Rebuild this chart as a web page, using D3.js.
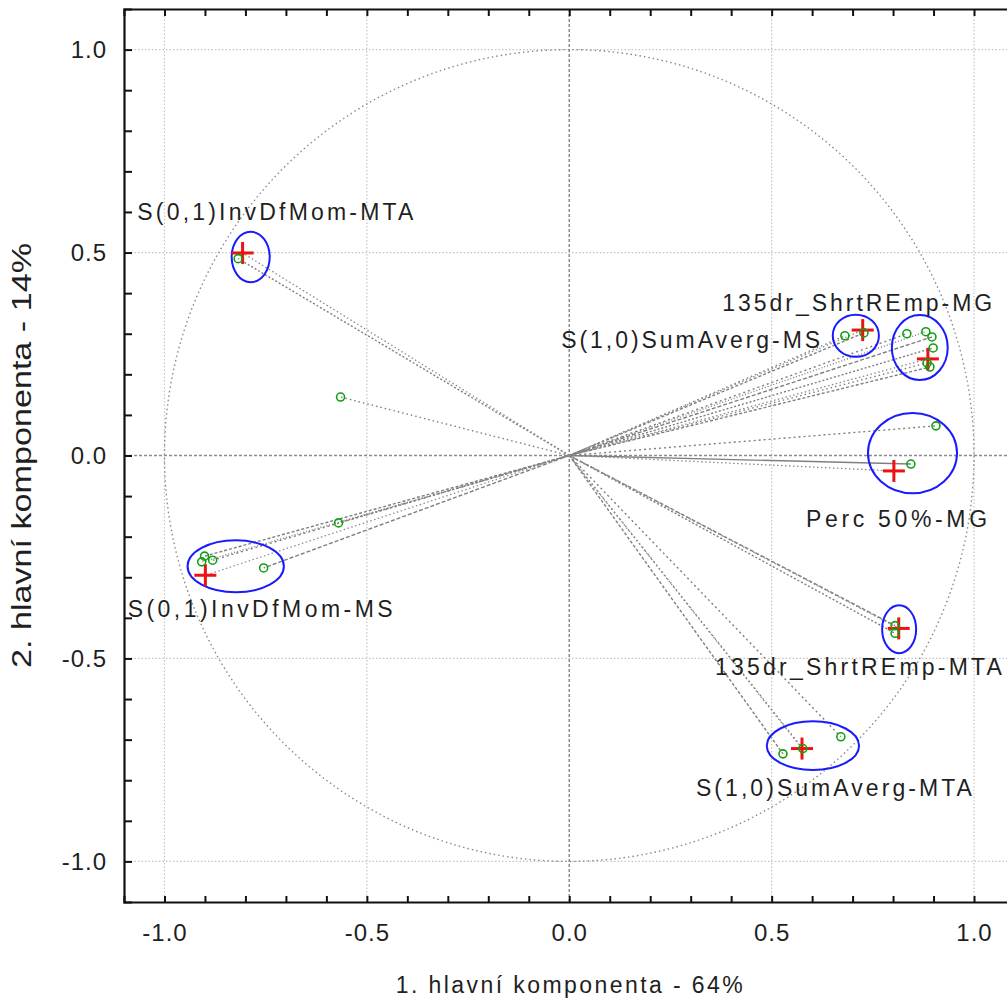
<!DOCTYPE html>
<html><head><meta charset="utf-8">
<script src="https://cdn.jsdelivr.net/npm/d3@7"></script>
<style>body{margin:0;background:#fff;} svg{display:block;} text{font-family:"Liberation Sans",Arial,sans-serif;fill:#1f1f1f;}</style>
</head><body>
<svg id="c" width="1007" height="1001"></svg>
<script>
// ---- data ----
const xTickLabels = [-1.0, -0.5, 0.0, 0.5, 1.0];
const yTickLabels = [-1.0, -0.5, 0.0, 0.5, 1.0];
const xTitle = "1. hlavní komponenta - 64%";
const yTitle = "2. hlavní komponenta - 14%";
// variables (green circles): [x, y]
const pointsX = [-0.818, -0.565, -0.901, -0.881, -0.908, -0.755, -0.570, 0.681, 0.728, 0.834, 0.881, 0.896, 0.899, 0.884, 0.891, 0.906, 0.844, 0.805, 0.805, 0.577, 0.528, 0.671];
const pointsY = [0.485, 0.144, -0.248, -0.258, -0.262, -0.277, -0.166, 0.295, 0.302, 0.300, 0.305, 0.292, 0.265, 0.228, 0.218, 0.073, -0.021, -0.419, -0.438, -0.722, -0.735, -0.693];
// group names and centroids (red crosses)
const groupNames = ["S(0,1)InvDfMom-MTA", "S(0,1)InvDfMom-MS", "S(1,0)SumAverg-MS", "135dr_ShrtREmp-MG", "Perc 50%-MG", "135dr_ShrtREmp-MTA", "S(1,0)SumAverg-MTA"];
const crossX = [-0.807, -0.899, 0.725, 0.886, 0.802, 0.814, 0.575];
const crossY = [0.499, -0.295, 0.309, 0.238, -0.038, -0.426, -0.722];
// ellipses: centre and radii (data units)
const ellCX = [-0.787, -0.824, 0.708, 0.866, 0.848, 0.815, 0.602];
const ellCY = [0.489, -0.273, 0.295, 0.266, 0.006, -0.428, -0.715];
const ellRX = [0.047, 0.119, 0.057, 0.069, 0.110, 0.042, 0.114];
const ellRY = [0.062, 0.064, 0.052, 0.080, 0.099, 0.059, 0.060];
// label anchor (data units, left end of text baseline)
const labelX = [-1.067, -1.091, -0.020, 0.378, 0.585, 0.360, 0.313];
const labelY = [0.580, -0.398, 0.265, 0.355, -0.175, -0.540, -0.838];
const labelW = [276, 265, 259, 270, 181, 287, 276];

// ---- layout ----
const svg = d3.select("#c");
const x = d3.scaleLinear().domain([-1.1, 1.1]).range([124, 1014.5]);
const y = d3.scaleLinear().domain([-1.1, 1.1]).range([902, 9]);

svg.append("defs").append("clipPath").attr("id","clip")
  .append("rect").attr("x",124).attr("y",9).attr("width",890.5).attr("height",893);

const plot = svg.append("g").attr("clip-path","url(#clip)");

// major grid
[-1, -0.5, 0.5, 1].forEach(v => {
  plot.append("line").attr("x1",x(v)).attr("x2",x(v)).attr("y1",y(1.1)).attr("y2",y(-1.1))
    .attr("stroke","#c4c4c4").attr("stroke-width",1.2).attr("stroke-dasharray","1.5,2");
  plot.append("line").attr("y1",y(v)).attr("y2",y(v)).attr("x1",x(-1.1)).attr("x2",x(1.1))
    .attr("stroke","#c4c4c4").attr("stroke-width",1.2).attr("stroke-dasharray","1.5,2");
});
// zero lines
plot.append("line").attr("x1",x(0)).attr("x2",x(0)).attr("y1",y(1.1)).attr("y2",y(-1.1))
  .attr("stroke","#8c8c8c").attr("stroke-width",1.5).attr("stroke-dasharray","3,2");
plot.append("line").attr("y1",y(0)).attr("y2",y(0)).attr("x1",x(-1.1)).attr("x2",x(1.1))
  .attr("stroke","#8c8c8c").attr("stroke-width",1.5).attr("stroke-dasharray","3,2");

// unit circle
plot.append("ellipse").attr("cx",x(0)).attr("cy",y(0))
  .attr("rx",x(1)-x(0)).attr("ry",y(0)-y(1))
  .attr("fill","none").attr("stroke","#8a8a8a").attr("stroke-width",1.4).attr("stroke-dasharray","1.5,3");

// lines from origin
const dashes = ["2,2","1.5,3","3,2","2,3","1,2","4,2"];
const pts = pointsX.map((v,i)=>({x:v,y:pointsY[i]}));
pts.forEach((p,i)=>{
  plot.append("line").attr("x1",x(0)).attr("y1",y(0)).attr("x2",x(p.x)).attr("y2",y(p.y))
    .attr("stroke","#7f7f7f").attr("stroke-width",1.4)
    .attr("stroke-dasharray", i===16 ? null : dashes[i % dashes.length]);
});
// extra lines to centroids
crossX.forEach((cx,i)=>{
  plot.append("line").attr("x1",x(0)).attr("y1",y(0)).attr("x2",x(cx)).attr("y2",y(crossY[i]))
    .attr("stroke","#8a8a8a").attr("stroke-width",1.3).attr("stroke-dasharray","1.5,2.5");
});

// ellipses
ellCX.forEach((cx,i)=>{
  plot.append("ellipse").attr("cx",x(cx)).attr("cy",y(ellCY[i]))
    .attr("rx",x(ellRX[i])-x(0)).attr("ry",y(0)-y(ellRY[i]))
    .attr("fill","none").attr("stroke","#1a1aff").attr("stroke-width",2);
});

// red crosses
crossX.forEach((cx,i)=>{
  const px=x(cx), py=y(crossY[i]), a=11;
  plot.append("line").attr("x1",px-a).attr("x2",px+a).attr("y1",py).attr("y2",py).attr("stroke","#ee1111").attr("stroke-width",3);
  plot.append("line").attr("x1",px).attr("x2",px).attr("y1",py-a).attr("y2",py+a).attr("stroke","#ee1111").attr("stroke-width",3);
});

// green circles
pts.forEach(p=>{
  plot.append("circle").attr("cx",x(p.x)).attr("cy",y(p.y)).attr("r",4)
    .attr("fill","none").attr("stroke","#10a010").attr("stroke-width",1.6);
});

// labels
groupNames.forEach((n,i)=>{
  svg.append("text").attr("x",x(labelX[i])).attr("y",y(labelY[i]))
    .attr("font-size",23).attr("textLength",labelW[i]).attr("lengthAdjust","spacing").text(n);
});

// frame axes (ticks inward, every 0.1)
const minor = d3.range(-10, 11).map(i=>i/10);
const fr = svg.append("g");
fr.append("g").attr("transform",`translate(0,${y(-1.1)})`)
  .call(d3.axisBottom(x).tickValues(minor).tickSize(-6).tickFormat(""));
fr.append("g").attr("transform",`translate(0,${y(1.1)})`)
  .call(d3.axisTop(x).tickValues(minor).tickSize(-7).tickFormat(""));
fr.append("g").attr("transform",`translate(${x(-1.1)},0)`)
  .call(d3.axisLeft(y).tickValues(minor).tickSize(-8).tickFormat(""));
fr.selectAll("path.domain").attr("stroke","#111").attr("stroke-width",2.2);
fr.selectAll(".tick line").attr("stroke","#111").attr("stroke-width",2);

// tick labels
const lab = svg.append("g");
lab.append("g").attr("transform",`translate(0,${y(-1.1)})`)
  .call(d3.axisBottom(x).tickValues(xTickLabels).tickSize(0).tickPadding(22).tickFormat(d3.format(".1f")))
  .call(g=>g.select(".domain").remove());
lab.append("g").attr("transform",`translate(${x(-1.1)},0)`)
  .call(d3.axisLeft(y).tickValues(yTickLabels).tickSize(0).tickPadding(17).tickFormat(d3.format(".1f")))
  .call(g=>g.select(".domain").remove());
lab.selectAll("text").attr("font-size",24).attr("letter-spacing","1px")
  .attr("font-family","'Liberation Sans',Arial,sans-serif").attr("fill","#1f1f1f")
  .text(function(d){ return d3.format(".1f")(d).replace("−","-"); });

// titles
svg.append("text").attr("x",x(0)).attr("y",993).attr("text-anchor","middle")
  .attr("font-size",23).attr("textLength",347).attr("lengthAdjust","spacing").text(xTitle);
svg.append("text").attr("transform",`translate(31,${y(0)}) rotate(-90)`).attr("text-anchor","middle")
  .attr("font-family","'Liberation Sans Narrow','DejaVu Sans Condensed','Liberation Sans',sans-serif")
  .attr("font-size",27).attr("textLength",425).attr("lengthAdjust","spacingAndGlyphs").text(yTitle);
</script>
</body></html>
